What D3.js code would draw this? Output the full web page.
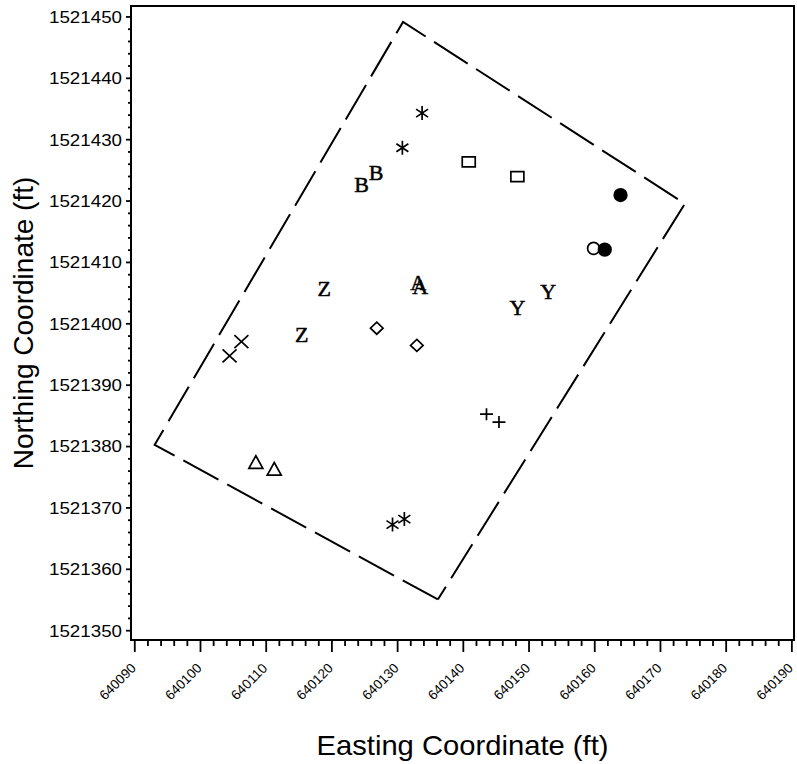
<!DOCTYPE html>
<html>
<head>
<meta charset="utf-8">
<script src="https://cdn.jsdelivr.net/npm/d3@7"></script>
<style>
  body { margin: 0; background: #fff; }
  svg { display: block; }
</style>
</head>
<body>
<svg id="chart" width="797" height="764"></svg>
<script>
// Sample locations: symbol code, easting and northing (ft)
const pointSymbol   = ["star", "star", "B", "B", "square", "square", "dot", "circle", "dot",
                       "Y", "Y", "A", "A", "Z", "Z", "diamond", "diamond", "x", "x",
                       "plus", "plus", "triangle", "triangle", "star", "star"];
const pointEasting  = [640133.8, 640130.8, 640124.6, 640126.8, 640140.9, 640148.3, 640164.0, 640159.9, 640161.6,
                       640153.0, 640148.3, 640133.2, 640133.5, 640118.9, 640115.5, 640126.9, 640133.0, 640106.3, 640104.5,
                       640143.6, 640145.5, 640108.5, 640111.3, 640129.3, 640131.1];
const pointNorthing = [1521434.25, 1521428.6, 1521422.6, 1521424.6, 1521426.3, 1521423.9, 1521420.9, 1521412.2, 1521412.0,
                       1521405.1, 1521402.6, 1521406.6, 1521405.9, 1521405.6, 1521398.1, 1521399.2, 1521396.4, 1521397.0, 1521394.7,
                       1521385.2, 1521383.9, 1521377.2, 1521376.1, 1521367.2, 1521368.1];

// Site boundary corners (bottom, left, top, right)
const boundaryEasting  = [640136.2, 640093.1, 640130.9, 640173.8];
const boundaryNorthing = [1521355.0, 1521380.2, 1521449.1, 1521419.5];

// Axis tick values
const eastingTicks  = d3.range(640090, 640191, 10);
const eastingMinor  = d3.range(640090, 640191, 2).filter(v => v % 10 !== 0);
const northingTicks = d3.range(1521350, 1521451, 10);
const northingMinor = d3.range(1521350, 1521451, 2).filter(v => v % 10 !== 0);

const xTitle = "Easting Coordinate (ft)";
const yTitle = "Northing Coordinate (ft)";

const svg = d3.select("#chart");
const sans = "'Liberation Sans', Arial, Helvetica, sans-serif";
const serif = "'Liberation Serif', 'Times New Roman', Times, serif";

const x = d3.scaleLinear().domain([640089.5, 640190.4]).range([131, 794]);
const y = d3.scaleLinear().domain([1521348.4, 1521451.7]).range([640, 6]);

// Plot frame
svg.append("rect")
  .attr("x", x.range()[0]).attr("y", y.range()[1])
  .attr("width", x.range()[1] - x.range()[0])
  .attr("height", y.range()[0] - y.range()[1])
  .attr("fill", "none").attr("stroke", "#000").attr("stroke-width", 2);

// Bottom axis
const gxMinor = svg.append("g").attr("transform", `translate(0,${y.range()[0]})`)
  .call(d3.axisBottom(x).tickValues(eastingMinor).tickSize(6).tickFormat(""));
const gx = svg.append("g").attr("transform", `translate(0,${y.range()[0]})`)
  .call(d3.axisBottom(x).tickValues(eastingTicks).tickSize(12).tickFormat(d3.format("d")));
[gxMinor, gx].forEach(g => {
  g.select(".domain").remove();
  g.selectAll("line").attr("stroke", "#000").attr("stroke-width", 1.8);
});
gx.selectAll("text")
  .attr("x", 0).attr("y", 0).attr("dy", 0)
  .attr("text-anchor", "end")
  .attr("transform", "translate(2,29) rotate(-45)")
  .attr("font-family", sans).attr("font-size", 13.5)
  .attr("textLength", 45).attr("lengthAdjust", "spacingAndGlyphs")
  .attr("fill", "#000");

// Left axis
const gyMinor = svg.append("g").attr("transform", `translate(${x.range()[0]},0)`)
  .call(d3.axisLeft(y).tickValues(northingMinor).tickSize(3).tickFormat(""));
const gy = svg.append("g").attr("transform", `translate(${x.range()[0]},0)`)
  .call(d3.axisLeft(y).tickValues(northingTicks).tickSize(5).tickPadding(4).tickFormat(d3.format("d")));
[gyMinor, gy].forEach(g => {
  g.select(".domain").remove();
  g.selectAll("line").attr("stroke", "#000").attr("stroke-width", 1.8);
});
gy.selectAll("text")
  .attr("dy", "0.36em")
  .attr("font-family", sans).attr("font-size", 16.3)
  .attr("textLength", 73).attr("lengthAdjust", "spacingAndGlyphs")
  .attr("fill", "#000");

// Axis titles
svg.append("text")
  .attr("x", (x.range()[0] + x.range()[1]) / 2).attr("y", 755)
  .attr("text-anchor", "middle")
  .attr("font-family", sans).attr("font-size", 28)
  .attr("textLength", 292).attr("lengthAdjust", "spacingAndGlyphs")
  .text(xTitle);
svg.append("text")
  .attr("transform", `translate(33,${(y.range()[0] + y.range()[1]) / 2}) rotate(-90)`)
  .attr("text-anchor", "middle")
  .attr("font-family", sans).attr("font-size", 28)
  .text(yTitle);

// Dashed site boundary
const boundary = boundaryEasting.map((e, i) => [x(e), y(boundaryNorthing[i])]);
svg.append("path")
  .attr("d", d3.line()(boundary.concat([boundary[0]])))
  .attr("fill", "none").attr("stroke", "#000").attr("stroke-width", 2)
  .attr("stroke-dasharray", "40,10")
  .attr("stroke-linejoin", "miter");

// Marker shapes (pixel outlines around the point)
const shapes = {
  square:   () => "M-6.5,-5H6.5V5H-6.5Z",
  diamond:  () => "M0,-6L6.3,0L0,6L-6.3,0Z",
  triangle: () => "M0,-7.5L7,5.2H-7Z",
  plus:     () => "M-6.5,0H6.5M0,-6V6",
  x:        () => "M-7,-6.5L7,6.5M-7,6.5L7,-6.5",
  star:     () => "M0,-7V7M-6,-4L6,4M-6,4L6,-4",
  circle:   () => d3.arc()({innerRadius: 0, outerRadius: 6, startAngle: 0, endAngle: 2 * Math.PI}),
  dot:      () => d3.arc()({innerRadius: 0, outerRadius: 6.3, startAngle: 0, endAngle: 2 * Math.PI})
};

const pts = pointSymbol.map((s, i) => ({s, e: pointEasting[i], n: pointNorthing[i]}));
const marks = svg.append("g");
pts.forEach(p => {
  const px = x(p.e), py = y(p.n);
  if (shapes[p.s]) {
    marks.append("path")
      .attr("transform", `translate(${px},${py})`)
      .attr("d", shapes[p.s]())
      .attr("fill", p.s === "dot" ? "#000" : (p.s === "circle" ? "#fff" : "none"))
      .attr("stroke", "#000")
      .attr("stroke-width", 1.7);
  } else {
    marks.append("text")
      .attr("x", px).attr("y", py + 7.3)
      .attr("text-anchor", "middle")
      .attr("font-family", serif).attr("font-size", 22)
      .attr("fill", "#000")
      .attr("stroke", "#000").attr("stroke-width", 0.5)
      .text(p.s);
  }
});
</script>
</body>
</html>
